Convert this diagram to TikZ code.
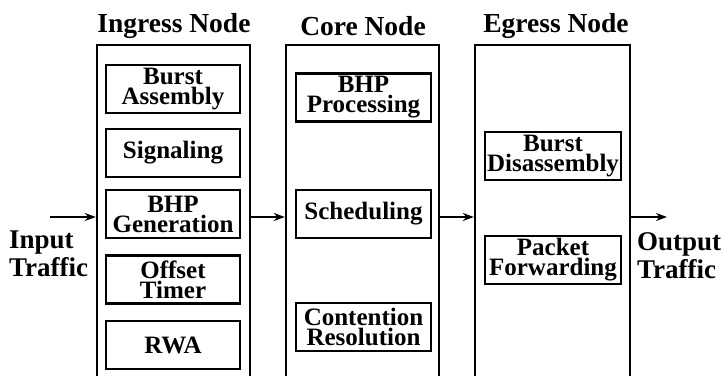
\documentclass[tikz,border=0pt]{standalone}
\usepackage{fontspec}
\setmainfont{Liberation Serif}
\usetikzlibrary{arrows.meta,positioning}
\begin{document}
\begin{tikzpicture}[x=1pt,y=-1pt,
  bigbox/.style={draw,line width=2.4pt,minimum width=153pt,minimum height=340pt,inner sep=0pt},
  subbox/.style={draw,line width=2.4pt,minimum width=134pt,minimum height=48pt,inner sep=0pt,align=center,
    font=\fontsize{25}{20}\selectfont\bfseries},
  title/.style={font=\fontsize{27.5}{27.5}\selectfont\bfseries},
  side/.style={align=left,anchor=west,inner sep=0pt,font=\fontsize{27}{28}\selectfont\bfseries},
  flow/.style={line width=1.6pt,-{Stealth[length=11pt,width=8pt]}}]
\useasboundingbox(0,0)rectangle(725,375);
% the three nodes
\node[bigbox](ing)at(173.5,215){};
\node[bigbox](core)at(362.5,215){};
\node[bigbox,minimum width=155pt](egr)at(552.5,215){};
\node[title](ingt)at(174,26){Ingress Node};
\node[title](coret)at(363,26){Core Node};
\node[title](egrt)at(556,26){Egress Node};
% ingress functions
\node[subbox](asm)at(173,89){Burst\\Assembly};
\node[subbox](sig)at(173,153){Signaling};
\node[subbox](gen)at(173,214){BHP\\Generation};
\node[subbox](off)at(173,279.5){Offset\\Timer};
\node[subbox](rwa)at(173,345){RWA};
% core functions
\node[subbox,minimum width=135pt](proc)at(363.5,97.5){BHP\\Processing};
\node[subbox,minimum width=135pt](sch)at(363.5,214){Scheduling};
\node[subbox,minimum width=135pt](cont)at(363.5,327){Contention\\Resolution};
% egress functions
\node[subbox,minimum width=136pt](dis)at(553,156){Burst\\Disassembly};
\node[subbox,minimum width=136pt](fwd)at(553,260){Packet\\Forwarding};
% traffic in and out
\node[side](in)at(9,254){Input\\Traffic};
\node[side](out)at(637,256){Output\\Traffic};
\coordinate(src)at(50,217);
\coordinate(dst)at(667,217);
\draw[flow](src)--(ing.west|-src);
\draw[flow](ing.east|-src)--(core.west|-src);
\draw[flow](core.east|-src)--(egr.west|-src);
\draw[flow](egr.east|-src)--(dst);
\end{tikzpicture}
\end{document}
